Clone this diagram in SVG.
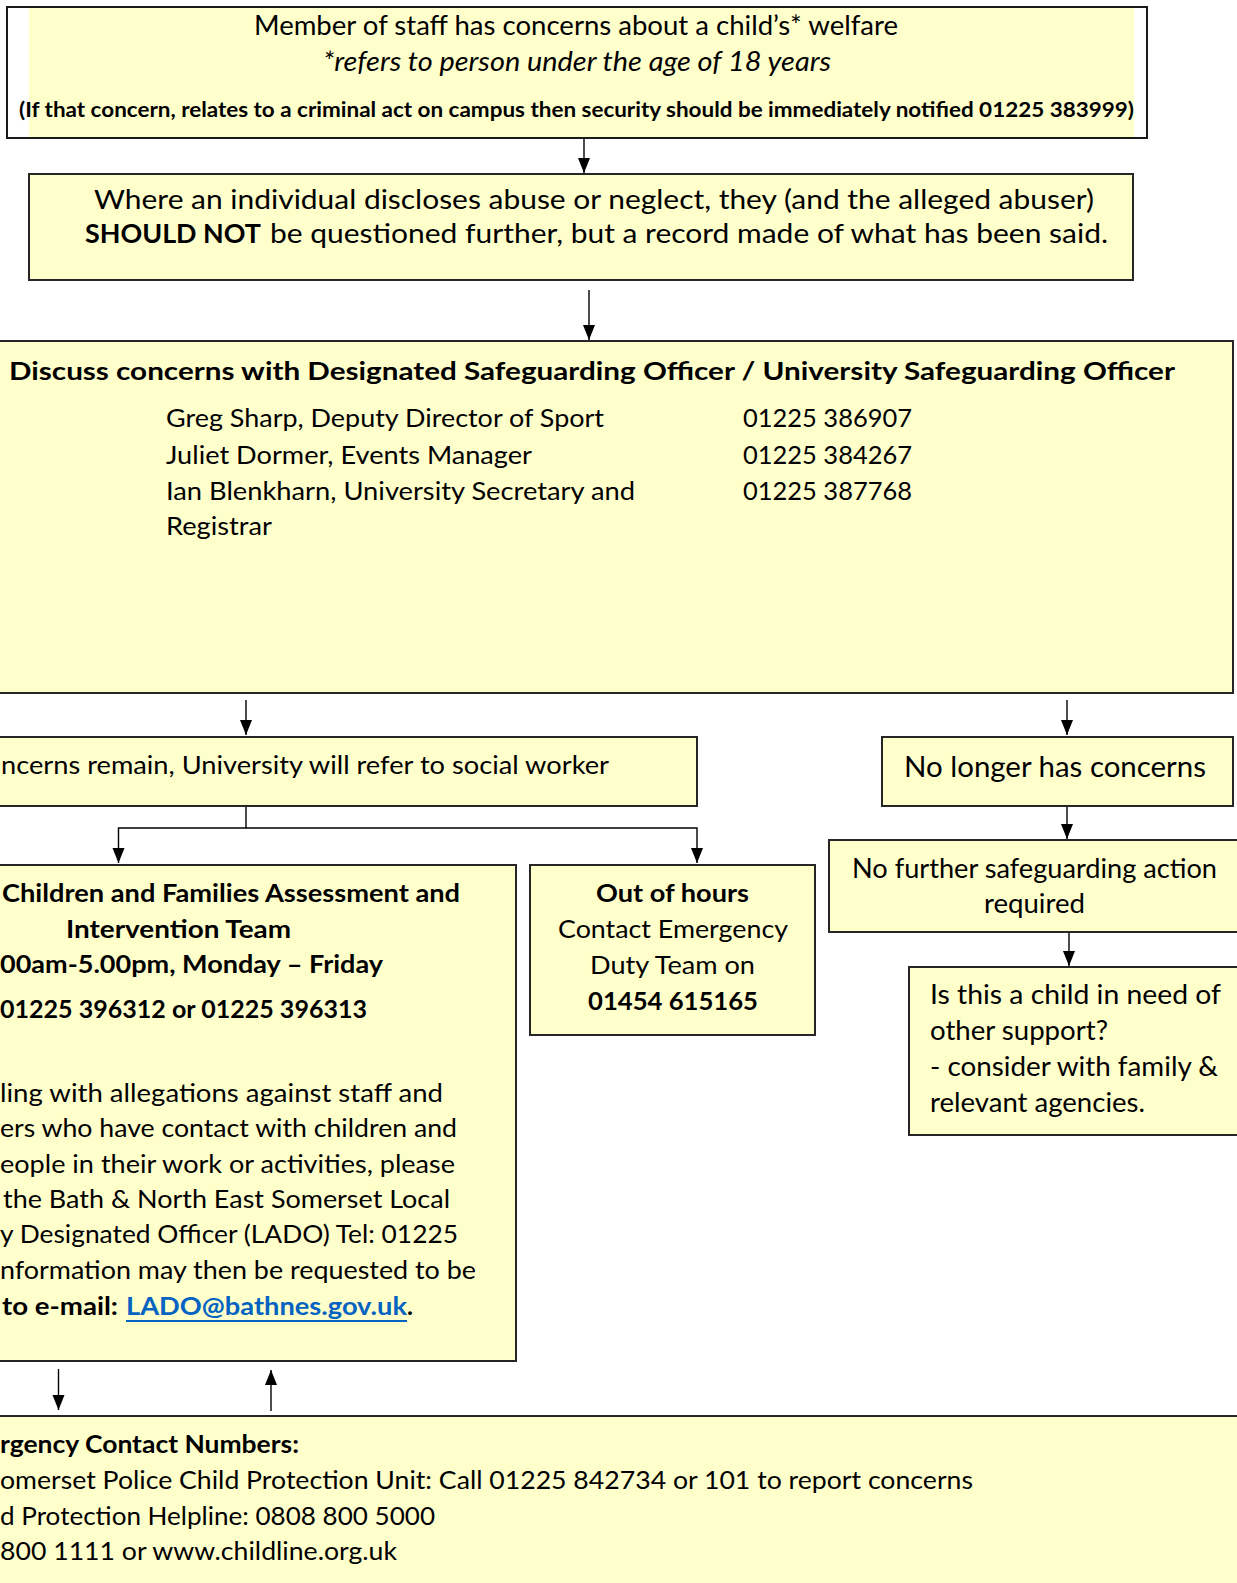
<svg xmlns="http://www.w3.org/2000/svg" width="1237" height="1583" viewBox="0 0 1237 1583">
<style>
.box{fill:#FFFFCC;stroke:#262626;stroke-width:2}
.t{font-family:Lato,"Open Sans","Liberation Sans",sans-serif;fill:#000}
.b{font-weight:bold}
.i{font-style:italic}
.conn{stroke:#000;stroke-width:1.4;fill:none}
</style>
<defs>
<marker id="ah" markerUnits="userSpaceOnUse" markerWidth="16" markerHeight="14" refX="15" refY="6" orient="auto">
<path d="M0,0 L15,6 L0,12 Z" fill="#000"/>
</marker>
</defs>
<rect width="1237" height="1583" fill="#fff"/>

<g id="connectors">
<line class="conn" x1="584" y1="138" x2="584" y2="173" marker-end="url(#ah)"/>
<line class="conn" x1="589" y1="290" x2="589" y2="340" marker-end="url(#ah)"/>
<line class="conn" x1="246" y1="700" x2="246" y2="735" marker-end="url(#ah)"/>
<line class="conn" x1="1067" y1="700" x2="1067" y2="735" marker-end="url(#ah)"/>
<path class="conn" d="M246,807 V828 H118.5 V863" marker-end="url(#ah)"/>
<path class="conn" d="M246,828 H697 V863" marker-end="url(#ah)"/>
<line class="conn" x1="1067" y1="806" x2="1067" y2="839" marker-end="url(#ah)"/>
<line class="conn" x1="1069" y1="932" x2="1069" y2="966" marker-end="url(#ah)"/>
<line class="conn" x1="58.5" y1="1369" x2="58.5" y2="1410" marker-end="url(#ah)"/>
<line class="conn" x1="271" y1="1411" x2="271" y2="1370" marker-end="url(#ah)"/>
</g>

<g id="n1">
<rect x="7" y="7" width="1140" height="131" fill="#fff" stroke="#1a1a1a" stroke-width="2"/>
<rect x="29" y="8" width="1105" height="129" fill="#FFFFCC"/>
<text class="t" x="254" y="35" font-size="27" textLength="644" lengthAdjust="spacingAndGlyphs">Member of staff has concerns about a child’s* welfare</text>
<text class="t i" x="323" y="71" font-size="27" textLength="508" lengthAdjust="spacingAndGlyphs">*refers to person under the age of 18 years</text>
<text class="t b" x="19" y="117" font-size="21" textLength="1115" lengthAdjust="spacingAndGlyphs">(If that concern, relates to a criminal act on campus then security should be immediately notified 01225 383999)</text>
</g>

<g id="n2">
<rect class="box" x="29" y="174" width="1104" height="106"/>
<text class="t" x="94" y="209" font-size="27.5" textLength="1000" lengthAdjust="spacingAndGlyphs">Where an individual discloses abuse or neglect, they (and the alleged abuser)</text>
<text class="t b" x="85" y="243" font-size="27.5" textLength="176" lengthAdjust="spacingAndGlyphs">SHOULD NOT</text>
<text class="t" x="270" y="243" font-size="27.5" textLength="838" lengthAdjust="spacingAndGlyphs">be questioned further, but a record made of what has been said.</text>
</g>

<g id="n3">
<rect class="box" x="-5" y="341" width="1238" height="352"/>
<text class="t b" x="9" y="380" font-size="25" textLength="1166" lengthAdjust="spacingAndGlyphs">Discuss concerns with Designated Safeguarding Officer / University Safeguarding Officer</text>
<text class="t" x="166" y="427" font-size="25" textLength="438" lengthAdjust="spacingAndGlyphs">Greg Sharp, Deputy Director of Sport</text>
<text class="t" x="166" y="464" font-size="25" textLength="366" lengthAdjust="spacingAndGlyphs">Juliet Dormer, Events Manager</text>
<text class="t" x="166" y="500" font-size="25" textLength="469" lengthAdjust="spacingAndGlyphs">Ian Blenkharn, University Secretary and</text>
<text class="t" x="166" y="535" font-size="25" textLength="106" lengthAdjust="spacingAndGlyphs">Registrar</text>
<text class="t" x="743" y="427" font-size="25" textLength="169" lengthAdjust="spacingAndGlyphs">01225 386907</text>
<text class="t" x="743" y="464" font-size="25" textLength="169" lengthAdjust="spacingAndGlyphs">01225 384267</text>
<text class="t" x="743" y="500" font-size="25" textLength="169" lengthAdjust="spacingAndGlyphs">01225 387768</text>
</g>

<g id="n4">
<rect class="box" x="-5" y="737" width="702" height="69"/>
<text class="t" x="1" y="774" font-size="25.5" textLength="608" lengthAdjust="spacingAndGlyphs">ncerns remain, University will refer to social worker</text>
</g>

<g id="n5">
<rect class="box" x="-5" y="865" width="521" height="496"/>
<text class="t b" x="2" y="902" font-size="25" textLength="458" lengthAdjust="spacingAndGlyphs">Children and Families Assessment and</text>
<text class="t b" x="66" y="938" font-size="25" textLength="225" lengthAdjust="spacingAndGlyphs">Intervention Team</text>
<text class="t b" x="0" y="973" font-size="25" textLength="383" lengthAdjust="spacingAndGlyphs">00am-5.00pm, Monday – Friday</text>
<text class="t b" x="0" y="1018" font-size="25" textLength="367" lengthAdjust="spacingAndGlyphs">01225 396312 or 01225 396313</text>
<text class="t" x="0" y="1102" font-size="25" textLength="443" lengthAdjust="spacingAndGlyphs">ling with allegations against staff and</text>
<text class="t" x="0" y="1137" font-size="25" textLength="457" lengthAdjust="spacingAndGlyphs">ers who have contact with children and</text>
<text class="t" x="0" y="1173" font-size="25" textLength="455" lengthAdjust="spacingAndGlyphs">eople in their work or activities, please</text>
<text class="t" x="3" y="1208" font-size="25" textLength="447" lengthAdjust="spacingAndGlyphs">the Bath &amp; North East Somerset Local</text>
<text class="t" x="0" y="1243" font-size="25" textLength="458" lengthAdjust="spacingAndGlyphs">y Designated Officer (LADO) Tel: 01225</text>
<text class="t" x="0" y="1279" font-size="25" textLength="476" lengthAdjust="spacingAndGlyphs">nformation may then be requested to be</text>
<text class="t b" x="2" y="1315" font-size="25" textLength="116" lengthAdjust="spacingAndGlyphs">to e-mail:</text>
<text class="t b" x="126" y="1315" font-size="25" style="fill:#0563C1" textLength="281" lengthAdjust="spacingAndGlyphs">LADO@bathnes.gov.uk</text>
<line x1="126" y1="1321" x2="407" y2="1321" stroke="#0563C1" stroke-width="2"/>
<text class="t b" x="407" y="1315" font-size="25">.</text>
</g>

<g id="n6">
<rect class="box" x="530" y="865" width="285" height="170"/>
<text class="t b" x="596" y="902" font-size="25" textLength="153" lengthAdjust="spacingAndGlyphs">Out of hours</text>
<text class="t" x="558" y="938" font-size="25" textLength="230" lengthAdjust="spacingAndGlyphs">Contact Emergency</text>
<text class="t" x="590" y="974" font-size="25" textLength="165" lengthAdjust="spacingAndGlyphs">Duty Team on</text>
<text class="t b" x="588" y="1010" font-size="25" textLength="170" lengthAdjust="spacingAndGlyphs">01454 615165</text>
</g>

<g id="n7">
<rect class="box" x="882" y="737" width="351" height="69"/>
<text class="t" x="904" y="777" font-size="28" textLength="302" lengthAdjust="spacingAndGlyphs">No longer has concerns</text>
</g>

<g id="n8">
<rect class="box" x="829" y="840" width="420" height="92"/>
<text class="t" x="852" y="878" font-size="26" textLength="365" lengthAdjust="spacingAndGlyphs">No further safeguarding action</text>
<text class="t" x="984" y="913" font-size="26" textLength="101" lengthAdjust="spacingAndGlyphs">required</text>
</g>

<g id="n9">
<rect class="box" x="909" y="967" width="340" height="168"/>
<text class="t" x="930" y="1004" font-size="26" textLength="291" lengthAdjust="spacingAndGlyphs">Is this a child in need of</text>
<text class="t" x="930" y="1040" font-size="26" textLength="178" lengthAdjust="spacingAndGlyphs">other support?</text>
<text class="t" x="930" y="1076" font-size="26" textLength="288" lengthAdjust="spacingAndGlyphs">- consider with family &amp;</text>
<text class="t" x="930" y="1112" font-size="26" textLength="215" lengthAdjust="spacingAndGlyphs">relevant agencies.</text>
</g>

<g id="n10">
<rect class="box" x="-5" y="1416" width="1250" height="180"/>
<text class="t b" x="0" y="1453" font-size="25" textLength="299" lengthAdjust="spacingAndGlyphs">rgency Contact Numbers:</text>
<text class="t" x="0" y="1489" font-size="25" textLength="973" lengthAdjust="spacingAndGlyphs">omerset Police Child Protection Unit: Call 01225 842734 or 101 to report concerns</text>
<text class="t" x="0" y="1525" font-size="25" textLength="435" lengthAdjust="spacingAndGlyphs">d Protection Helpline: 0808 800 5000</text>
<text class="t" x="0" y="1560" font-size="25" textLength="397" lengthAdjust="spacingAndGlyphs">800 1111 or www.childline.org.uk</text>
</g>
</svg>
